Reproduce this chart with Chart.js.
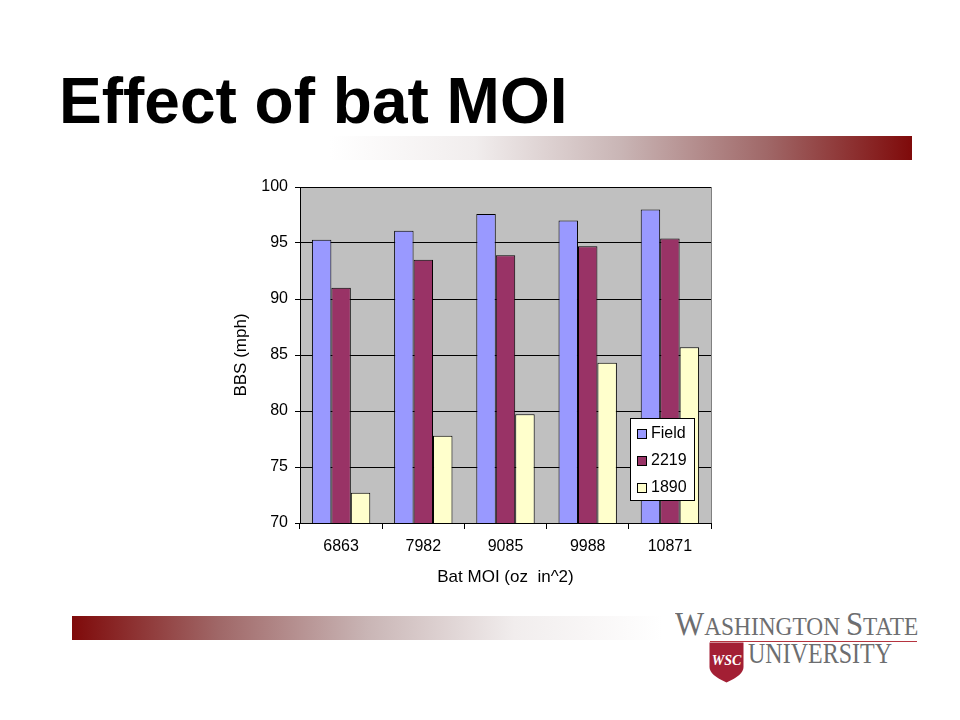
<!DOCTYPE html>
<html>
<head>
<meta charset="utf-8">
<script src="https://cdn.jsdelivr.net/npm/chart.js@4.4.1/dist/chart.umd.min.js"></script>
<style>
  html, body { margin:0; padding:0; background:#fff; }
  body { width:960px; height:720px; position:relative; overflow:hidden; font-family:"Liberation Sans", Arial, sans-serif; }
  #title { position:absolute; left:59px; top:64px; font-weight:bold; font-size:64px; color:#000; white-space:nowrap; }
  #barTop { position:absolute; left:330px; top:136px; width:582px; height:24px;
    background:linear-gradient(to right, #ffffff 0%, #f1eded 25%, #c9b5b5 50%, #a06868 75%, #7f0a0a 100%); }
  #barBot { position:absolute; left:72px; top:616px; width:590px; height:24px;
    background:linear-gradient(to left, #ffffff 0%, #f1eded 25%, #c9b5b5 50%, #a06868 75%, #7f0a0a 100%); }
  #chartWrap { position:absolute; left:220px; top:170px; width:500px; height:430px; }
  #logo { position:absolute; left:660px; top:600px; width:280px; height:100px; color:#6d6e70; font-family:"Liberation Serif", "DejaVu Serif", serif; }
  #wst { position:absolute; left:15px; top:8px; font-size:25px; line-height:1; white-space:nowrap; transform-origin:0 0; transform:scaleX(0.935); }
  #wst .big { font-size:33px; }
  #rule { position:absolute; left:50px; top:41px; width:207px; height:1px; background:#b5343f; }
  #univ { position:absolute; left:88px; top:38px; font-size:30px; line-height:1; white-space:nowrap; transform-origin:0 0; transform:scaleX(0.80); }
  #shield { position:absolute; left:49px; top:42px; }
</style>
</head>
<body>
<div id="title">Effect of bat MOI</div>
<div id="barTop"></div>
<div id="barBot"></div>
<div id="chartWrap"><canvas id="c" width="500" height="430"></canvas></div>
<div id="logo">
  <div id="wst"><span class="big">W</span>ASHINGTON <span class="big">S</span>TATE</div>
  <div id="rule"></div>
  <svg id="shield" width="35" height="41" viewBox="0 0 35 41">
    <path d="M0.5 0.5 H34.5 V25 Q34.5 33 17.5 40.5 Q0.5 33 0.5 25 Z" fill="#a31f34"/>
    <text x="17.5" y="23" text-anchor="middle" font-family="Liberation Serif, serif" font-style="italic" font-weight="bold" font-size="14" fill="#fff">WSC</text>
  </svg>
  <div id="univ">UNIVERSITY</div>
</div>
<script>
const categories = ["6863", "7982", "9085", "9988", "10871"];
const fieldValues = [95.3, 96.1, 97.6, 97.0, 98.0];
const values2219 = [91.0, 93.5, 93.9, 94.7, 95.4];
const values1890 = [72.7, 77.8, 79.7, 84.3, 85.7];
const seriesLabels = ["Field", "2219", "1890"];
const seriesColors = ["#9999FF", "#993366", "#FFFFCC"];

const FONT = "'Liberation Sans', Arial, sans-serif";

const plotBg = {
  id: 'plotBg',
  beforeDraw(chart) {
    const {ctx, chartArea:a} = chart;
    ctx.save();
    ctx.fillStyle = '#C0C0C0';
    ctx.fillRect(a.left, a.top, a.right - a.left, a.bottom - a.top);
    ctx.restore();
  },
  afterDatasetsDraw(chart) {
    const {ctx, chartArea:a} = chart;
    ctx.save();
    ctx.strokeStyle = '#808080';
    ctx.lineWidth = 1;
    ctx.beginPath();
    ctx.moveTo(Math.round(a.right) + 0.5, a.top);
    ctx.lineTo(Math.round(a.right) + 0.5, a.bottom);
    ctx.stroke();
    ctx.restore();
  }
};

const boxLegend = {
  id: 'boxLegend',
  afterDraw(chart) {
    const {ctx} = chart;
    const x = 410, y = 248, w = 64, h = 82;
    ctx.save();
    ctx.fillStyle = '#fff';
    ctx.fillRect(x, y, w, h);
    ctx.strokeStyle = '#000';
    ctx.lineWidth = 1;
    ctx.strokeRect(x + 0.5, y + 0.5, w, h);
    ctx.font = "16px " + FONT;
    ctx.textBaseline = 'middle';
    chart.data.datasets.forEach((ds, i) => {
      const cy = y + 15 + i * 27;
      ctx.fillStyle = ds.backgroundColor;
      ctx.fillRect(x + 7, cy - 4, 9, 9);
      ctx.strokeStyle = '#000';
      ctx.strokeRect(x + 7.5, cy - 3.5, 9, 9);
      ctx.fillStyle = '#000';
      ctx.fillText(ds.label, x + 21, cy + 1);
    });
    ctx.restore();
  }
};

new Chart(document.getElementById('c'), {
  type: 'bar',
  data: {
    labels: categories,
    datasets: [
      { label: seriesLabels[0], data: fieldValues, backgroundColor: seriesColors[0] },
      { label: seriesLabels[1], data: values2219, backgroundColor: seriesColors[1] },
      { label: seriesLabels[2], data: values1890, backgroundColor: seriesColors[2] }
    ].map(d => Object.assign(d, { borderColor: '#000', borderWidth: 1, borderSkipped: false, categoryPercentage: 0.71, barPercentage: 1.0 }))
  },
  options: {
    responsive: false,
    animation: false,
    devicePixelRatio: 1,
    layout: { padding: { top: 17, right: 9, left: 0, bottom: 0 } },
    plugins: { legend: { display: false }, tooltip: { enabled: false } },
    scales: {
      x: {
        grid: { offset: true, drawOnChartArea: false, color: '#000', tickLength: 6, lineWidth: 1 },
        border: { color: '#000', width: 1 },
        ticks: { color: '#000', font: { family: FONT, size: 16 }, padding: 8 },
        title: { display: true, text: 'Bat MOI (oz  in^2)', color: '#000', font: { family: FONT, size: 17 }, padding: { top: 4, bottom: 12 } },
        afterFit(scale) { scale.height = 77; }
      },
      y: {
        min: 70, max: 100,
        ticks: { stepSize: 5, color: '#000', font: { family: FONT, size: 16 }, padding: 7 },
        grid: { color: '#000', tickLength: 5, lineWidth: 1 },
        border: { color: '#000', width: 1 },
        title: { display: true, text: 'BBS (mph)', color: '#000', font: { family: FONT, size: 17 }, padding: { top: 11, bottom: 4 } },
        afterFit(scale) { scale.width = 80; }
      }
    }
  },
  plugins: [plotBg, boxLegend]
});
</script>
</body>
</html>
